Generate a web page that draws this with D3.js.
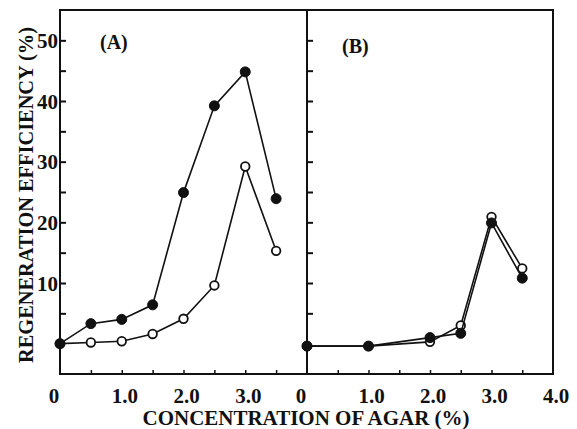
<!DOCTYPE html>
<html lang="en">
<head>
<meta charset="UTF-8">
<title>Regeneration efficiency vs agar</title>
<script src="https://d3js.org/d3.v7.min.js"></script>
<style>
  body { margin: 0; background: #fff; }
  text { font-family: "Liberation Serif", "Times New Roman", serif; font-weight: bold; fill: #111; }
</style>
</head>
<body>
<svg id="chart" width="577" height="429"></svg>
<script>
// agar concentration (%)
var agar = [0, 0.5, 1.0, 1.5, 2.0, 2.5, 3.0, 3.5];
var agarB = [0, 1.0, 2.0, 2.5, 3.0, 3.5];
// panel A
var filledA = [0, 3.3, 4.0, 6.4, 24.9, 39.2, 44.8, 23.9];
var openA = [0, 0.2, 0.4, 1.6, 4.1, 9.6, 29.2, 15.3];
// panel B
var filledB = [-0.4, -0.4, 1.0, 1.7, 19.9, 10.8];
var openB = [-0.4, -0.4, 0.3, 3.0, 20.9, 12.4];

var yTickLabels = [10, 20, 30, 40, 50];
var xTickLabels = [0, 1.0, 2.0, 3.0, 4.0];

var svg = d3.select('#chart');
var plotTop = 10, plotBottom = 374, plotLeft = 60, plotMid = 307, plotRight = 553;

var y = d3.scaleLinear().domain([-5, 55]).range([plotBottom, plotTop]);
var xA = d3.scaleLinear().domain([0, 4]).range([plotLeft, plotMid]);
var xB = d3.scaleLinear().domain([0, 4]).range([plotMid, plotRight]);

var ink = '#111';

// frame
svg.append('rect')
    .attr('x', plotLeft).attr('y', plotTop)
    .attr('width', plotRight - plotLeft).attr('height', plotBottom - plotTop)
    .attr('fill', 'none').attr('stroke', ink).attr('stroke-width', 2);
svg.append('line')
    .attr('x1', plotMid).attr('x2', plotMid).attr('y1', plotTop).attr('y2', plotBottom)
    .attr('stroke', ink).attr('stroke-width', 2);

var yTicks = d3.range(5, 55, 5);
var xTicks = d3.range(0.5, 4, 0.5);

function drawPanel(x, showYLabels, xLabels) {
    // inward ticks on the left edge
    var ya = svg.append('g')
        .attr('transform', 'translate(' + x.range()[0] + ',0)')
        .call(d3.axisRight(y).tickValues(yTicks).tickSize(6).tickFormat(''));
    ya.select('.domain').remove();
    ya.selectAll('line').attr('stroke', ink).attr('stroke-width', 2);

    if (showYLabels) {
        svg.selectAll(null).data(yTickLabels).enter().append('text')
            .attr('x', x.range()[0] - 2)
            .attr('y', d => y(d))
            .attr('dy', '0.36em')
            .attr('text-anchor', 'end')
            .style('font-size', '21px')
            .text(d => d);
    }

    // inward ticks on the bottom
    var xa = svg.append('g')
        .attr('transform', 'translate(0,' + plotBottom + ')')
        .call(d3.axisTop(x).tickValues(xTicks).tickSize(4).tickFormat(''));
    xa.select('.domain').remove();
    xa.selectAll('line').attr('stroke', ink).attr('stroke-width', 1.5);

    svg.selectAll(null).data(xLabels).enter().append('text')
        .attr('x', d => x(d) + (d === 0 ? -6 : 3))
        .attr('y', 403)
        .attr('text-anchor', 'middle')
        .style('font-size', '21px')
        .text(d => d === 0 ? '0' : d.toFixed(1));
}

drawPanel(xA, true, xTickLabels.slice(0, 4));
drawPanel(xB, false, xTickLabels);

function drawSeries(x, xs, ys, open) {
    var pts = xs.map((d, i) => [d, ys[i]]);
    svg.append('path')
        .datum(pts)
        .attr('d', d3.line().x(d => x(d[0])).y(d => y(d[1])))
        .attr('fill', 'none')
        .attr('stroke', ink)
        .attr('stroke-width', 1.6);
    svg.selectAll(null).data(pts).enter().append('circle')
        .attr('cx', d => x(d[0]))
        .attr('cy', d => y(d[1]))
        .attr('r', open ? 4.3 : 5)
        .attr('fill', open ? '#fff' : ink)
        .attr('stroke', ink)
        .attr('stroke-width', open ? 1.8 : 1);
}

drawSeries(xA, agar, openA, true);
drawSeries(xA, agar, filledA, false);
drawSeries(xB, agarB, openB, true);
drawSeries(xB, agarB, filledB, false);

// panel labels
svg.append('text').attr('x', 100).attr('y', 49).style('font-size', '20px').text('(A)');
svg.append('text').attr('x', 342).attr('y', 53).style('font-size', '20px').text('(B)');

// axis titles
svg.append('text')
    .attr('x', 306).attr('y', 425)
    .attr('text-anchor', 'middle')
    .attr('textLength', 327).attr('lengthAdjust', 'spacingAndGlyphs')
    .style('font-size', '20px')
    .text('CONCENTRATION OF AGAR (%)');

svg.append('text')
    .attr('transform', 'translate(33,195) rotate(-90)')
    .attr('text-anchor', 'middle')
    .attr('textLength', 336).attr('lengthAdjust', 'spacingAndGlyphs')
    .style('font-size', '20px')
    .text('REGENERATION EFFICIENCY (%)');
</script>
</body>
</html>
